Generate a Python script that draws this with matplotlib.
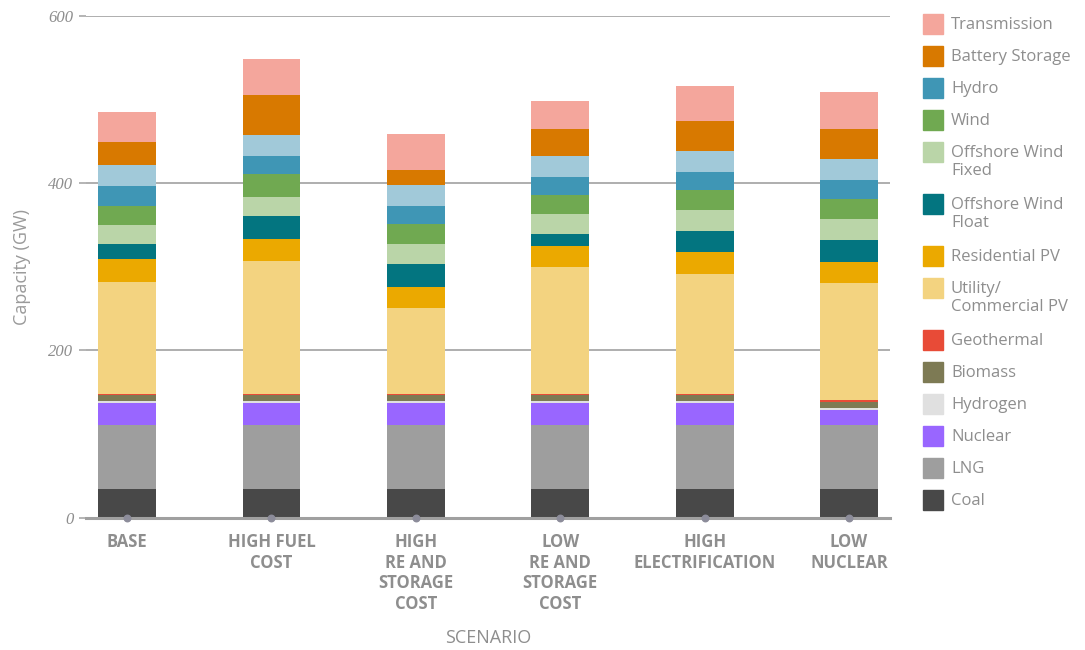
import numpy as np
import matplotlib.pyplot as plt
from matplotlib.patches import Rectangle

# Scenarios on the x axis
scenarios = ['BASE', 'HIGH FUEL\nCOST', 'HIGH\nRE AND\nSTORAGE\nCOST',
             'LOW\nRE AND\nSTORAGE\nCOST', 'HIGH\nELECTRIFICATION', 'LOW\nNUCLEAR']

# Installed capacity (GW) per technology, bottom to top of the stack
coal = [34, 34, 34, 34, 34, 34]
lng = [77, 77, 77, 77, 77, 77]
nuclear = [26, 26, 26, 26, 26, 18]
hydrogen = [2.5, 2.5, 2.5, 2.5, 2.5, 2.5]
biomass = [7, 7, 7, 7, 7, 7]
geothermal = [1.7, 1.7, 1.7, 1.7, 1.7, 1.7]
utility_pv = [134, 159, 102, 151, 143, 140]
residential_pv = [27, 26, 26, 26, 26, 26]
offshore_float = [18, 27.5, 27.5, 14.5, 25, 26]
offshore_fixed = [23, 23, 23, 23, 26, 25]
wind = [23, 27.5, 24, 23, 24, 24]
hydro = [23, 21.5, 21.5, 21.5, 21.5, 22.5]
unlabelled = [25, 25, 25, 25, 25, 25]   # light blue band, not in the legend
battery = [27.5, 48, 19, 32, 35, 36]
transmission = [36, 43, 43, 33.5, 42, 44]

series = [
    ('Coal', coal, '#484848'),
    ('LNG', lng, '#9e9e9e'),
    ('Nuclear', nuclear, '#9966ff'),
    ('Hydrogen', hydrogen, '#e0e0e0'),
    ('Biomass', biomass, '#7d7a54'),
    ('Geothermal', geothermal, '#e84b37'),
    ('Utility/\nCommercial PV', utility_pv, '#f3d380'),
    ('Residential PV', residential_pv, '#eba900'),
    ('Offshore Wind\nFloat', offshore_float, '#037580'),
    ('Offshore Wind\nFixed', offshore_fixed, '#bad5a8'),
    ('Wind', wind, '#70a951'),
    ('Hydro', hydro, '#3f96b5'),
    (None, unlabelled, '#a1c9d9'),
    ('Battery Storage', battery, '#d87900'),
    ('Transmission', transmission, '#f4a69c'),
]

grey = '#8e8e8e'
W, H = 1085, 650
fig = plt.figure(figsize=(W / 100, H / 100), dpi=100)
ax = fig.add_axes([0.0793, 0.2035, 0.741, 0.7722])

x = np.arange(len(scenarios))
bottom = np.zeros(len(scenarios))
for name, vals, col in series:
    ax.bar(x, vals, width=0.4, bottom=bottom, color=col, zorder=3)
    bottom += np.array(vals)

# axes styling
ax.set_xlim(-0.284, len(scenarios) - 1 + 0.284)
ax.set_ylim(0, 600)
ax.set_yticks([0, 200, 400, 600])
for s in ax.spines.values():
    s.set_visible(False)
ax.grid(axis='y', color='#a8a8a8', lw=1.3, zorder=0)
ax.axhline(0, color='#a0a0a0', lw=2.2, zorder=4, clip_on=False)
ax.scatter(x, np.zeros(len(x)), s=22, color='#8c8c9a', zorder=5, clip_on=False)

ax.tick_params(axis='y', length=5, color='#a8a8a8', width=1.2, pad=4,
               labelsize=12, labelcolor=grey)
for lab in ax.get_yticklabels():
    lab.set_fontfamily('Liberation Serif')
    lab.set_fontstyle('italic')

ax.set_xticks(x)
ax.set_xticklabels(scenarios, fontfamily='Open Sans', fontweight='bold',
                   fontsize=12, color=grey, linespacing=1.18, va='top')
ax.tick_params(axis='x', length=0, pad=11)

ax.set_ylabel('Capacity (GW)', fontfamily='Open Sans', fontsize=13, color='#9a9a9a')
ax.yaxis.set_label_coords(-0.068, 0.5)
ax.text(0.5, -0.24, 'SCENARIO', transform=ax.transAxes, ha='center', va='center',
        fontfamily='Open Sans', fontsize=13, color=grey)

# legend, top entry first, swatch aligned with first line of text
yt = 24.0
for name, vals, col in series[::-1]:
    if name is None:
        continue
    fig.add_artist(Rectangle((923 / W, (H - yt - 10) / H), 20 / W, 20 / H,
                             transform=fig.transFigure, color=col))
    fig.text(951 / W, (H - yt + 7) / H, name, fontfamily='Open Sans', fontsize=12,
             color=grey, va='top', ha='left', linespacing=1.2)
    yt += 32 + 20 * name.count('\n')

fig.savefig('out.png', dpi=100)
